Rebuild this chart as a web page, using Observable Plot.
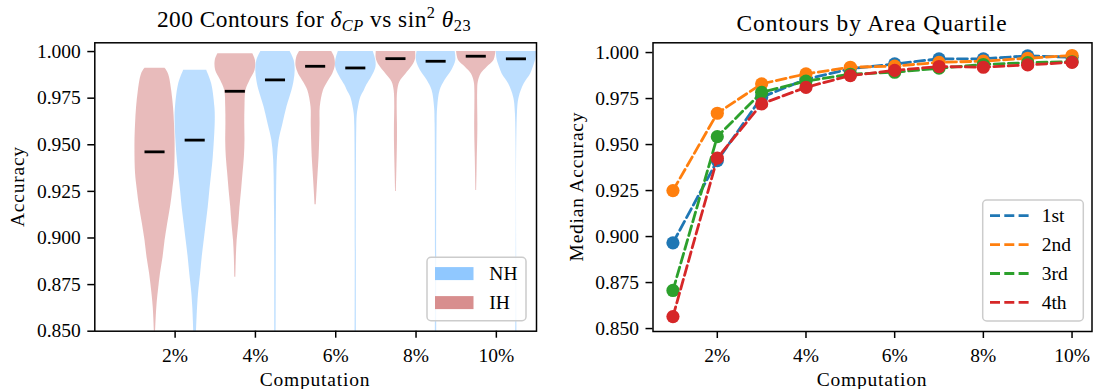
<!DOCTYPE html>
<html><head><meta charset="utf-8">
<script src="https://cdn.jsdelivr.net/npm/d3@7"></script>
<script src="https://cdn.jsdelivr.net/npm/@observablehq/plot@0.6"></script>
<style>
body{margin:0;background:#fff;}
#wrap{position:relative;width:1094px;height:389px;overflow:hidden;}
#wrap > svg{position:absolute;top:0;}
#wrap svg text{font-family:"Liberation Serif",serif !important;}
#wrap svg g[aria-label$="tick label"] text{font-size:19.5px !important;}
</style></head><body><div id="wrap"></div>
<script>
// ---------- shared ticks ----------
const yTicks = [0.85, 0.875, 0.9, 0.925, 0.95, 0.975, 1.0];
const xTicks = [2, 4, 6, 8, 10];
const xTickLabels = ["2%", "4%", "6%", "8%", "10%"];

// ---------- left panel: violins ----------
const violinPos = [1.5, 2.5, 3.5, 4.5, 5.5, 6.5, 7.5, 8.5, 9.5, 10.5];
const violinGroup = ["IH", "NH", "IH", "NH", "IH", "NH", "IH", "NH", "IH", "NH"];
const violinMedian = [0.9462, 0.9525, 0.9787, 0.9848, 0.9921, 0.9912, 0.9962, 0.9948, 0.9975, 0.9961];
const violinAcc = [
  [0.991, 0.988, 0.979, 0.970, 0.961, 0.9505, 0.9344, 0.9255, 0.9165, 0.9076, 0.8986, 0.8897, 0.8808, 0.8718, 0.8629, 0.85],
  [0.990, 0.9827, 0.9702, 0.963, 0.9433, 0.9344, 0.9255, 0.9165, 0.9076, 0.8986, 0.8897, 0.8808, 0.8718, 0.8629, 0.85],
  [0.9988, 0.9952, 0.9898, 0.9845, 0.9791, 0.9702, 0.9612, 0.9523, 0.9433, 0.9344, 0.9255, 0.9165, 0.9076, 0.8986, 0.8897, 0.879],
  [1.0, 0.9952, 0.9898, 0.9845, 0.9791, 0.9702, 0.9612, 0.9523, 0.9433, 0.9344, 0.9165, 0.8986, 0.85],
  [1.0, 0.997, 0.9925, 0.988, 0.9836, 0.9791, 0.9702, 0.9612, 0.9523, 0.9433, 0.9344, 0.9255, 0.9178],
  [1.0, 0.995, 0.9915, 0.9865, 0.982, 0.979, 0.9755, 0.970, 0.9666, 0.960, 0.85],
  [1.0, 0.9962, 0.9925, 0.988, 0.9836, 0.9791, 0.9702, 0.9612, 0.9523, 0.9433, 0.9344, 0.925],
  [1.0, 0.9952, 0.9898, 0.9845, 0.9791, 0.9702, 0.9612, 0.85],
  [1.0, 0.9952, 0.9916, 0.988, 0.9836, 0.979, 0.9702, 0.9612, 0.9523, 0.9433, 0.9344, 0.9255],
  [1.0, 0.9961, 0.9934, 0.988, 0.9827, 0.9755, 0.9666, 0.85]
];
const violinWidth = [
  [0.50, 0.67, 0.83, 0.92, 0.97, 1.00, 0.97, 0.88, 0.77, 0.63, 0.50, 0.40, 0.27, 0.17, 0.09, 0.03],
  [0.57, 0.82, 0.98, 1.00, 0.90, 0.82, 0.73, 0.65, 0.55, 0.45, 0.35, 0.27, 0.18, 0.12, 0.07],
  [0.87, 1.00, 0.98, 0.73, 0.53, 0.48, 0.47, 0.48, 0.45, 0.38, 0.31, 0.23, 0.17, 0.09, 0.05, 0.025],
  [0.73, 0.93, 0.98, 0.93, 0.82, 0.57, 0.37, 0.18, 0.10, 0.07, 0.05, 0.04, 0.035],
  [0.80, 0.94, 0.98, 0.85, 0.60, 0.39, 0.23, 0.22, 0.20, 0.17, 0.12, 0.07, 0.03],
  [0.87, 1.00, 1.00, 0.80, 0.55, 0.42, 0.25, 0.13, 0.08, 0.05, 0.03],
  [0.98, 0.98, 0.83, 0.50, 0.19, 0.09, 0.06, 0.075, 0.075, 0.06, 0.04, 0.02],
  [0.95, 0.98, 0.78, 0.44, 0.20, 0.08, 0.05, 0.03],
  [0.98, 0.88, 0.54, 0.24, 0.10, 0.07, 0.07, 0.08, 0.07, 0.05, 0.035, 0.02],
  [1.00, 0.97, 0.90, 0.71, 0.39, 0.14, 0.05, 0.03]
];
const groupNames = ["NH", "IH"];
const groupColors = ["#90c8ff", "#d88e8e"];

// ---------- right panel: median accuracy by area quartile ----------
const computation = [1, 2, 3, 4, 5, 6, 7, 8, 9, 10];
const quartileNames = ["1st", "2nd", "3rd", "4th"];
const quartileColors = ["#1f77b4", "#ff7f0e", "#2ca02c", "#d62728"];
const q1 = [0.8966, 0.9413, 0.9757, 0.9855, 0.9912, 0.9938, 0.9966, 0.9966, 0.9982, 0.9975];
const q2 = [0.9250, 0.9670, 0.9830, 0.9884, 0.9920, 0.9926, 0.9947, 0.9953, 0.9969, 0.9984];
const q3 = [0.8707, 0.9543, 0.9784, 0.9845, 0.9882, 0.9893, 0.9915, 0.9935, 0.9945, 0.9950];
const q4 = [0.8565, 0.9426, 0.9721, 0.9811, 0.9875, 0.9903, 0.9924, 0.9920, 0.9933, 0.9947];
const quartileSeries = [q1, q2, q3, q4];

// ---------- build ----------
const FONT = "Liberation Serif";
const colorOf = g => groupColors[groupNames.indexOf(g)];
const fmt3 = d3.format(".3f");
const xfmt = d => xTickLabels[xTicks.indexOf(d)];

const violinMarks = violinPos.map((p, i) => {
  const rows = violinAcc[i].map((a, j) => ({acc: a, x1: p - violinWidth[i][j] / 2, x2: p + violinWidth[i][j] / 2}));
  return Plot.areaX(rows, {y: "acc", x1: "x1", x2: "x2", fill: colorOf(violinGroup[i]), fillOpacity: 0.6, curve: "catmull-rom"});
});
const medianRows = violinPos.map((p, i) => ({acc: violinMedian[i], x1: p - 0.25, x2: p + 0.25}));

const axisStyle = {tickSize: 7, strokeWidth: 1.5, label: null, fontSize: 19.5, fontFamily: FONT, fontVariant: "normal"};

const left = Plot.plot({
  width: 550, height: 389,
  marginLeft: 94.3, marginRight: 14, marginTop: 42.3, marginBottom: 58.3,
  x: {domain: [0, 11]},
  y: {domain: [0.85, 1.0047]},
  style: {fontFamily: FONT, fontSize: "19.5px", color: "black", background: "white"},
  marks: [
    ...violinMarks,
    Plot.ruleY(medianRows, {y: "acc", x1: "x1", x2: "x2", stroke: "black", strokeWidth: 2.8}),
    Plot.frame({stroke: "black", strokeWidth: 1.5}),
    Plot.axisY({...axisStyle, ticks: yTicks, tickFormat: fmt3, tickPadding: 7}),
    Plot.axisX({...axisStyle, ticks: xTicks, tickFormat: xfmt, tickPadding: 9.5})
  ]
});
left.style.left = "0px";

const lineMarks = [];
quartileSeries.forEach((s, k) => {
  const rows = computation.map((c, j) => ({c, v: s[j]}));
  lineMarks.push(Plot.line(rows, {x: "c", y: "v", stroke: quartileColors[k], strokeWidth: 2.8, strokeDasharray: "10,4.3"}));
  lineMarks.push(Plot.dot(rows, {x: "c", y: "v", r: 6.6, fill: quartileColors[k], stroke: "none"}));
});

const right = Plot.plot({
  width: 544, height: 389,
  marginLeft: 102.5, marginRight: 2.5, marginTop: 42.3, marginBottom: 58,
  x: {domain: [0.55, 10.45]},
  y: {domain: [0.8484, 1.0053]},
  style: {fontFamily: FONT, fontSize: "19.5px", color: "black", background: "white"},
  marks: [
    ...lineMarks,
    Plot.frame({stroke: "black", strokeWidth: 1.5}),
    Plot.axisY({...axisStyle, ticks: yTicks, tickFormat: fmt3, tickPadding: 7}),
    Plot.axisX({...axisStyle, ticks: xTicks, tickFormat: xfmt, tickPadding: 9.5})
  ]
});
right.style.left = "550px";

const wrap = document.getElementById("wrap");
wrap.appendChild(left);
wrap.appendChild(right);

// ---------- overlay: titles, axis labels, legends ----------
const ov = d3.select(wrap).append("svg")
  .attr("width", 1094).attr("height", 389)
  .style("left", "0px").style("pointer-events", "none")
  .attr("font-family", FONT).attr("fill", "black");

const LS = "0.04em";
// left title with math
const t1 = ov.append("text").attr("x", 314).attr("y", 27).attr("text-anchor", "middle")
  .attr("font-size", 23.4).attr("letter-spacing", "0.02em");
t1.append("tspan").text("200 Contours for ");
t1.append("tspan").attr("font-style", "italic").text("δ");
t1.append("tspan").attr("font-style", "italic").attr("font-size", 16.4).attr("dy", 3.5).text("CP");
t1.append("tspan").attr("dy", -3.5).text(" vs sin");
t1.append("tspan").attr("font-size", 16.4).attr("dy", -9).text("2");
t1.append("tspan").attr("dy", 9).text(" ");
t1.append("tspan").attr("font-style", "italic").text("θ");
t1.append("tspan").attr("font-size", 16.4).attr("dy", 3.5).text("23");

ov.append("text").attr("x", 872).attr("y", 30.5).attr("text-anchor", "middle")
  .attr("font-size", 23.4).attr("letter-spacing", LS).text("Contours by Area Quartile");

// axis labels
[[315, "Computation"], [872, "Computation"]].forEach(([x, t]) =>
  ov.append("text").attr("x", x).attr("y", 386).attr("text-anchor", "middle")
    .attr("font-size", 19.5).attr("letter-spacing", LS).text(t));
[[24, "Accuracy"], [582.5, "Median Accuracy"]].forEach(([x, t]) =>
  ov.append("text").attr("transform", `translate(${x},186.6) rotate(-90)`).attr("text-anchor", "middle")
    .attr("font-size", 19.5).attr("letter-spacing", LS).text(t));

// left legend
ov.append("rect").attr("x", 427).attr("y", 257.3).attr("width", 99).attr("height", 63.4)
  .attr("rx", 4).attr("fill", "white").attr("fill-opacity", 0.8).attr("stroke", "#cccccc").attr("stroke-width", 1.5);
groupNames.forEach((g, i) => {
  const cy = 273.6 + i * 29;
  ov.append("rect").attr("x", 435).attr("y", cy - 6.5).attr("width", 38.5).attr("height", 13)
    .attr("fill", groupColors[i]);
  ov.append("text").attr("x", 489.3).attr("y", cy + 6.6).attr("font-size", 19.5).text(g);
});

// right legend
ov.append("rect").attr("x", 982.7).attr("y", 200).attr("width", 100.6).attr("height", 121)
  .attr("rx", 4).attr("fill", "white").attr("fill-opacity", 0.8).attr("stroke", "#cccccc").attr("stroke-width", 1.5);
quartileNames.forEach((q, i) => {
  const cy = 215.7 + i * 28.9;
  ov.append("line").attr("x1", 990).attr("x2", 1029.3).attr("y1", cy).attr("y2", cy)
    .attr("stroke", quartileColors[i]).attr("stroke-width", 2.8).attr("stroke-dasharray", "10,4.3");
  ov.append("text").attr("x", 1041.7).attr("y", cy + 6.6).attr("font-size", 19.5).text(q);
});
</script>
</body></html>
